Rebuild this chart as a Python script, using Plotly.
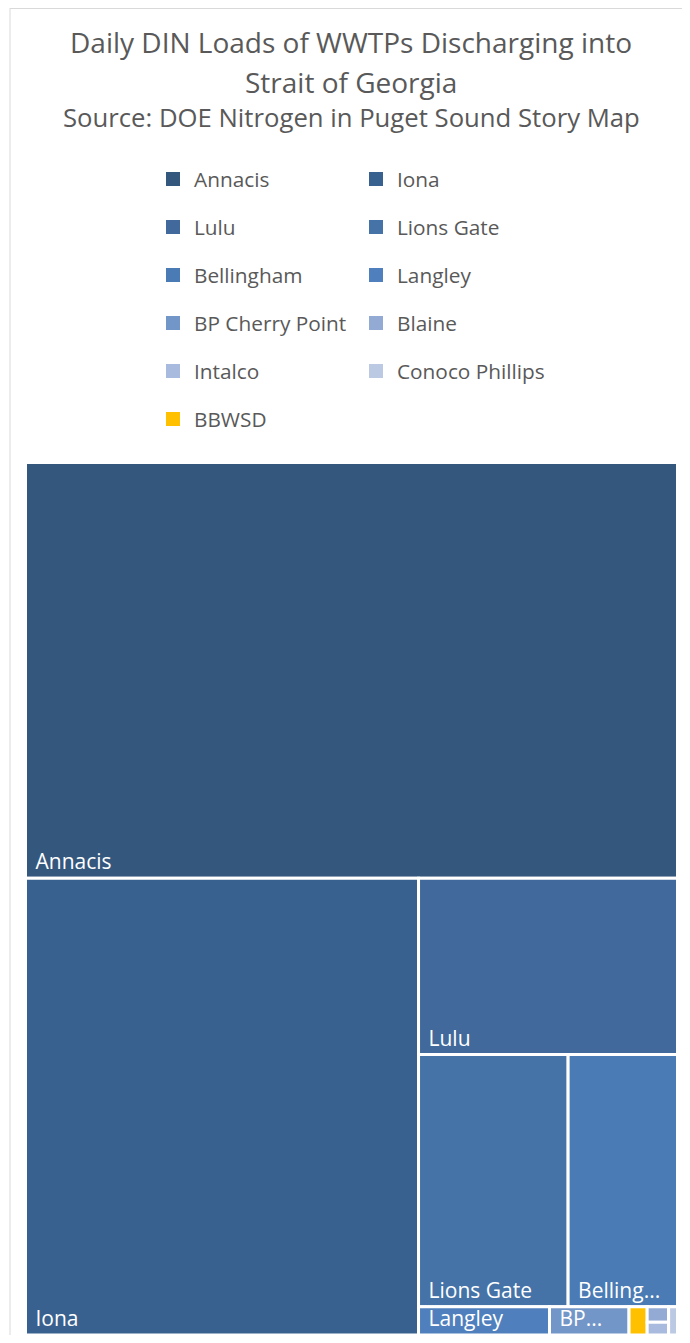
import plotly.graph_objects as go

# page body has an 8px margin; the figure is sized/offset to compensate
OFF = 8
W, H = 674, 1327

# ---- data ----
plants = ["Annacis", "Iona", "Lulu", "Lions Gate", "Bellingham", "Langley",
          "BP Cherry Point", "BBWSD", "Blaine", "Intalco", "Conoco Phillips"]
din_load = [25940, 17180, 4370, 3610, 2640, 354, 215, 49, 32, 26, 24]
tile_text = ["Annacis", "Iona", "Lulu", "Lions Gate", "Belling...", "Langley",
             "BP...", "", "", "", ""]
colors = ["#34577e", "#39618f", "#41699b", "#4573a8", "#4a7bb4", "#4f80bd",
          "#7396c8", "#ffc000", "#93aad4", "#a8badd", "#bbc9e3"]
legend_order = ["Annacis", "Iona", "Lulu", "Lions Gate", "Bellingham", "Langley",
                "BP Cherry Point", "Blaine", "Intalco", "Conoco Phillips", "BBWSD"]

title_lines = ["Daily DIN Loads of WWTPs Discharging into", "Strait of Georgia"]
subtitle = "Source: DOE Nitrogen in Puget Sound Story Map"

def px(x):
    return (x - OFF) / W

def py(y):
    return 1 - (y - OFF) / H

def clamp(v):
    return min(1.0, max(0.0, v))

fig = go.Figure()
fig.add_trace(go.Treemap(
    labels=plants,
    parents=[""] * len(plants),
    values=din_load,
    text=tile_text,
    texttemplate="\u2009\u2009%{text}",
    textposition="bottom left",
    textfont=dict(family="Open Sans", size=21, color="white"),
    marker=dict(colors=colors, line=dict(color="white", width=3),
                pad=dict(t=0, l=0, r=0, b=0)),
    tiling=dict(packing="squarify", squarifyratio=1.2, pad=0),
    pathbar=dict(visible=False),
    sort=True,
    hoverinfo="label+value",
    domain=dict(x=[clamp(px(25.5)), clamp(px(677.5))],
                y=[clamp(py(1335.5)), clamp(py(462.5))]),
))

shapes = []
annotations = []
# border (left and top)
shapes.append(dict(type="line", xref="paper", yref="paper",
                   x0=px(10), x1=px(10), y0=0, y1=1,
                   line=dict(color="#d9d9d9", width=1)))
shapes.append(dict(type="line", xref="paper", yref="paper",
                   x0=px(10), x1=1, y0=py(8.5), y1=py(8.5),
                   line=dict(color="#d9d9d9", width=1)))

# title
font_col = "#595959"
annotations.append(dict(text=title_lines[0], x=px(351), y=py(42), xref="paper", yref="paper",
                        showarrow=False, xanchor="center", yanchor="middle",
                        font=dict(family="Open Sans", size=28, color=font_col)))
annotations.append(dict(text=title_lines[1], x=px(351), y=py(82), xref="paper", yref="paper",
                        showarrow=False, xanchor="center", yanchor="middle",
                        font=dict(family="Open Sans", size=28, color=font_col)))
annotations.append(dict(text=subtitle, x=px(351), y=py(117), xref="paper", yref="paper",
                        showarrow=False, xanchor="center", yanchor="middle",
                        font=dict(family="Open Sans", size=25.7, color=font_col)))

# legend (manual, two columns)
col_x = [166, 369]
for i, name in enumerate(legend_order):
    r, c = divmod(i, 2)
    yc = 179 + 48 * r
    x0 = col_x[c]
    col = colors[plants.index(name)]
    shapes.append(dict(type="rect", xref="paper", yref="paper",
                       x0=px(x0), x1=px(x0 + 14), y0=py(yc + 7), y1=py(yc - 7),
                       line=dict(width=0), fillcolor=col))
    annotations.append(dict(text=name, x=px(x0 + 26), y=py(yc), xref="paper", yref="paper",
                            showarrow=False, xanchor="left", yanchor="middle",
                            font=dict(family="Open Sans", size=20.8, color=font_col)))

fig.update_layout(
    width=W, height=H,
    margin=dict(l=0, r=0, t=0, b=0),
    paper_bgcolor="white",
    plot_bgcolor="white",
    shapes=shapes,
    annotations=annotations,
    uniformtext=dict(minsize=21, mode="show"),
    showlegend=False,
)

fig.write_html("out.html")
